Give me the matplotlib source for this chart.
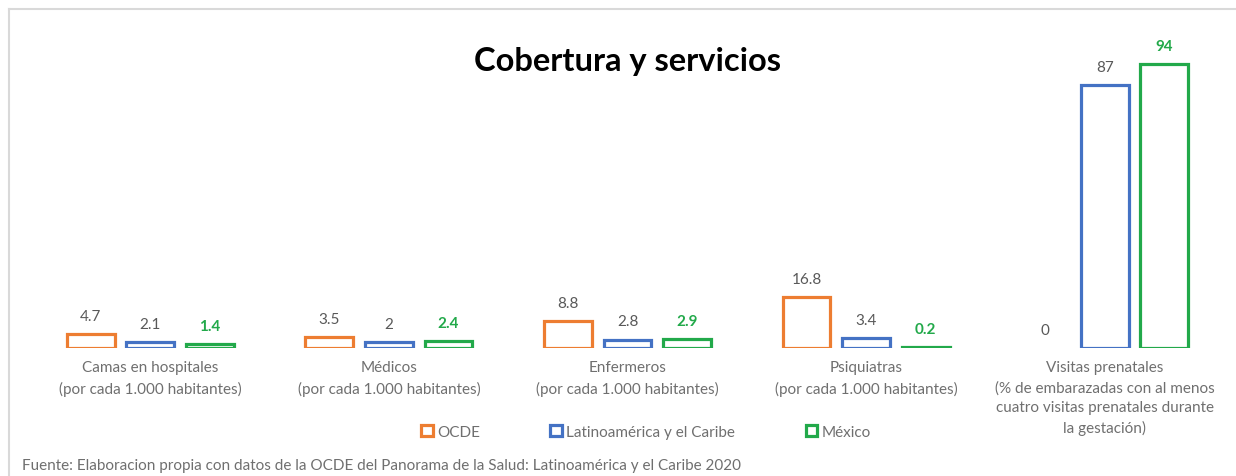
import matplotlib.pyplot as plt
from matplotlib.patches import Patch
from matplotlib.lines import Line2D
import numpy as np

plt.rcParams['font.family'] = ['Lato', 'DejaVu Sans']

categories = [
    'Camas en hospitales\n(por cada 1.000 habitantes)',
    'Médicos\n(por cada 1.000 habitantes)',
    'Enfermeros\n(por cada 1.000 habitantes)',
    'Psiquiatras\n(por cada 1.000 habitantes)',
    'Visitas prenatales\n(% de embarazadas con al menos\ncuatro visitas prenatales durante\nla gestación)',
]
series = ['OCDE', 'Latinoamérica y el Caribe', 'México']
ocde = [4.7, 3.5, 8.8, 16.8, 0]
latam = [2.1, 2, 2.8, 3.4, 87]
mexico = [1.4, 2.4, 2.9, 0.2, 94]

colors = ['#ED7D31', '#4472C4', '#22A94A']
label_colors = ['#595959', '#595959', '#22A94A']
label_weights = ['normal', 'normal', 'bold']

fig = plt.figure(figsize=(12.36, 4.77), dpi=100)
ax = fig.add_axes([31 / 1236, 1 - 349 / 477, (1224 - 31) / 1236, (349 - 30) / 477])

x = np.arange(len(categories))
width = 0.2
step = 0.25
for i, (vals, c) in enumerate(zip([ocde, latam, mexico], colors)):
    pos = x + (i - 1) * step
    for p, v in zip(pos, vals):
        if v > 0:
            ax.bar(p, v, width=width, facecolor='white', edgecolor=c, linewidth=2.3)
        lab = str(int(v)) if v == int(v) else str(v)
        ax.annotate(lab, (p, v), xytext=(0, 8), textcoords='offset points',
                    ha='center', va='bottom', fontsize=11,
                    color=label_colors[i], fontweight=label_weights[i])

ax.set_xlim(-0.5, len(categories) - 0.5)
ax.set_ylim(0, 105.6)
ax.set_xticks(x)
ax.set_xticklabels(categories, fontsize=11, color='#6f6f6f', linespacing=1.5, va='top')
ax.tick_params(axis='x', length=0, pad=9)
ax.set_yticks([])
for s in ax.spines.values():
    s.set_visible(False)

fig.text(628 / 1236, 1 - 62 / 477, 'Cobertura y servicios', ha='center', va='center',
         fontsize=23.5, fontweight='bold', color='black')

handles = [Patch(facecolor='white', edgecolor=c, linewidth=2.3) for c in colors]
fig.legend(handles, series, loc='center', bbox_to_anchor=(646 / 1236, 1 - 433 / 477),
           ncol=3, frameon=False, fontsize=11, labelcolor='#6f6f6f',
           handlelength=0.75, handleheight=0.75, handletextpad=0.3, columnspacing=4.6)

fig.text(22 / 1236, 1 - 466 / 477,
         'Fuente: Elaboracion propia con datos de la OCDE del Panorama de la Salud: Latinoamérica y el Caribe 2020',
         ha='left', va='center', fontsize=11, color='#6f6f6f')

# marco gris del gráfico
fig.add_artist(Line2D([9 / 1236, 9 / 1236], [0, 1 - 10 / 477], transform=fig.transFigure,
                      color='#d9d9d9', linewidth=1.5))
fig.add_artist(Line2D([9 / 1236, 1], [1 - 10 / 477, 1 - 10 / 477], transform=fig.transFigure,
                      color='#d9d9d9', linewidth=1.5))

fig.savefig('out.png', dpi=100, facecolor='white')
